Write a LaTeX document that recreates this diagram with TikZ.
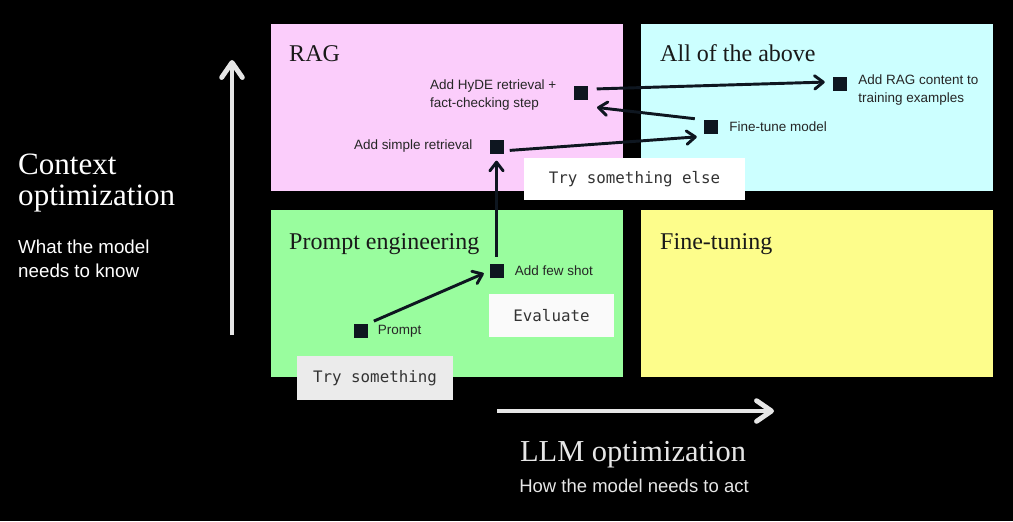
\documentclass[tikz,border=0pt]{standalone}
\usepackage{fontspec}
\setmainfont{Liberation Serif}
\setsansfont{Liberation Sans}
\setmonofont{DejaVu Sans Mono}
\usetikzlibrary{positioning,arrows.meta}
\definecolor{ragpink}{HTML}{FBCDFB}
\definecolor{allcyan}{HTML}{CCFFFF}
\definecolor{promptgreen}{HTML}{99FD9E}
\definecolor{tuneyellow}{HTML}{FDFD8B}
\definecolor{sqcolor}{HTML}{0E1620}
\definecolor{axisgray}{HTML}{E6E6E6}
\tikzset{
  sq/.style={fill=sqcolor, minimum size=0.42cm, inner sep=0pt},
  lbl/.style={inner sep=0pt, text=black!85, font=\sffamily\fontsize{11.5}{15.3}\selectfont},
  title/.style={anchor=base west, inner sep=0pt, text=black!90, font=\fontsize{20.5}{24}\selectfont},
  flow/.style={-{Straight Barb[length=0.26cm, width=0.4cm, round]}, line width=2.5pt, sqcolor},
  card/.style={inner sep=0pt, font=\ttfamily\fontsize{13.5}{16}\selectfont, text=black!80},
  axis/.style={-{Straight Barb[length=0.45cm, width=0.62cm, round]}, line width=4.2pt, axisgray},
}
\begin{document}
\begin{tikzpicture}[x=0.03cm, y=-0.03cm]
% background
\fill[black] (0,0) rectangle (1013,521);
\useasboundingbox (0,0) rectangle (1013,521);
% quadrants
\fill[ragpink] (271,24) rectangle (623,191);
\fill[allcyan] (641,24) rectangle (993,191);
\fill[promptgreen] (271,210) rectangle (623,377);
\fill[tuneyellow] (641,210) rectangle (993,377);
\node[title] (ragtitle) at (289,61) {RAG};
\node[title] (alltitle) at (660,61) {All of the above};
\node[title] (prompttitle) at (289,249) {Prompt engineering};
\node[title] (tunetitle) at (660,249) {Fine-tuning};

% axes
\coordinate (ybot) at (232,335);
\coordinate (ytop) at (232,60);
\draw[axis] (ybot) -- (ytop);
\coordinate (xleft) at (497,411);
\coordinate (xright) at (774,411);
\draw[axis] (xleft) -- (xright);
\node[anchor=north west, inner sep=0pt, align=left, text=white, font=\fontsize{26.5}{26}\selectfont] (ctxtitle) at (18,154) {Context\\optimization};
\node[anchor=north west, inner sep=0pt, align=left, text=white, font=\sffamily\fontsize{16}{20.4}\selectfont] (ctxsub) at (18,240) {What the model\\needs to know};
\node[anchor=base, inner sep=0pt, text=axisgray, font=\fontsize{26}{26}\selectfont] (llmtitle) at (633,461) {LLM optimization};
\node[anchor=base, inner sep=0pt, text=axisgray, font=\sffamily\fontsize{15.8}{18}\selectfont] (llmsub) at (634,492) {How the model needs to act};

% steps
\node[sq] (prompt) at (360.5,331) {};
\node[sq] (fewshot) at (496.5,271) {};
\node[sq] (simple) at (496.5,146.5) {};
\node[sq] (hyde) at (580.5,92.5) {};
\node[sq] (finetune) at (711,127) {};
\node[sq] (ragc) at (840,83.5) {};
\node[lbl, right=0.3cm of prompt] (promptlbl) {Prompt};
\node[lbl, right=0.33cm of fewshot] (fewshotlbl) {Add few shot};
\node[lbl, left=0.5cm of simple] (simplelbl) {Add simple retrieval};
\node[lbl, left=0.5cm of hyde, align=left, yshift=-0.08cm] (hydelbl) {Add HyDE retrieval +\\fact-checking step};
\node[lbl, right=0.33cm of finetune] (finetunelbl) {Fine-tune model};
\node[lbl, right=0.33cm of ragc, align=left, yshift=-0.2cm] (ragclbl) {Add RAG content to\\training examples};

\draw[flow, shorten <=0.2cm, shorten >=0.18cm] (prompt.north east) -- (fewshot.west);
\draw[flow, shorten <=0.21cm, shorten >=0.21cm] (fewshot) -- (simple);
\draw[flow, shorten <=0.18cm, shorten >=0.21cm] ([yshift=-0.13cm]simple.east) -- ([yshift=-0.28cm]finetune.west);
\draw[flow, shorten <=0.27cm, shorten >=0.28cm] (finetune.north west) -- ([yshift=-0.2cm]hyde.south east);
\draw[flow, shorten <=0.27cm, shorten >=0.24cm] ([yshift=0.1cm]hyde.east) -- ([yshift=0.05cm]ragc.west);

% cards
\node[card, fill=white, minimum width=6.63cm, minimum height=1.26cm] (tryelse) at (634.5,179) {Try something else};
\node[card, fill=white!98!black, minimum width=3.75cm, minimum height=1.29cm] (evaluate) at (551.5,315.5) {Evaluate};
\node[card, fill=white!92!black, minimum width=4.68cm, minimum height=1.32cm] (trysome) at (375,378) {Try something};
\end{tikzpicture}
\end{document}
